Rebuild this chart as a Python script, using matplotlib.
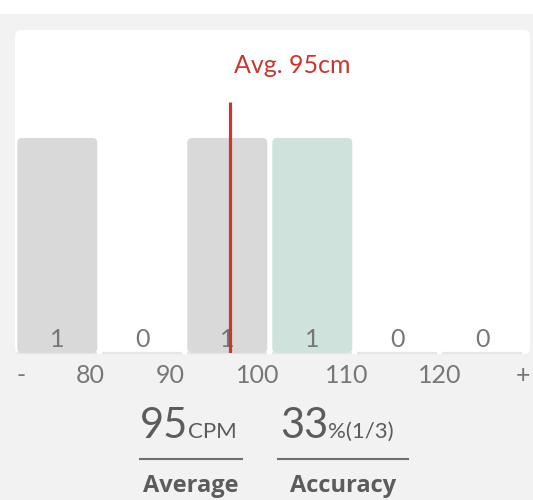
import matplotlib
matplotlib.use("Agg")
import matplotlib.pyplot as plt
from matplotlib.patches import FancyBboxPatch, Rectangle
from matplotlib.lines import Line2D

# ---- data ----
bin_labels = ["-80", "80-90", "90-100", "100-110", "110-120", "120+"]
counts = [1, 0, 1, 1, 0, 0]
highlight_bin = 3            # the bin drawn in teal
tick_labels = ["-", "80", "90", "100", "110", "120", "+"]
avg_value = 95
avg_unit_label = "cm"
avg_stat_unit = "CPM"
accuracy_pct = 33
correct = 1
total = 3
first_edge = 80   # left edge value of bin index 1
bin_step = 10

# ---- layout ----
W, H = 533, 500
fig = plt.figure(figsize=(W / 100, H / 100), dpi=100)
fig.patch.set_facecolor("#f2f2f2")

def fx(x):
    return x / W

def fy(y):
    return 1 - y / H

FONT = "Lato"
BOLD_FONT = "Open Sans"
GREY_TXT = "#777777"
DARK_TXT = "#5c5c5c"
RED = "#c9372e"

# white strip at top
fig.add_artist(Rectangle((0, fy(14)), 1, 14 / H, transform=fig.transFigure,
                         facecolor="white", edgecolor="none", zorder=0))
# white card
fig.add_artist(FancyBboxPatch((fx(15), fy(354)), fx(530) - fx(15), (354 - 30) / H,
                              boxstyle="round,pad=0,rounding_size=0.012",
                              mutation_aspect=W / H,
                              transform=fig.transFigure,
                              facecolor="white", edgecolor="none", zorder=0))

ax_left, ax_right, ax_bottom, ax_top = 17.3, 527.3, 353, 30
ax = fig.add_axes([fx(ax_left), fy(ax_bottom), (ax_right - ax_left) / W,
                   (ax_bottom - ax_top) / H])
ax.set_facecolor("none")
n = len(counts)
ax.set_xlim(0, n)
ax.set_ylim(0, 1.502)
for s in ax.spines.values():
    s.set_visible(False)
ax.tick_params(length=0)
ax.set_yticks([])

bar_w = 80 / 85
x_pos = list(range(n))
colors = ["#cfe2dc" if i == highlight_bin else "#d9d9d9" for i in range(n)]

# baseline strokes under each bin
for i in x_pos:
    ax.plot([i, i + bar_w], [0, 0], color="#e6e6e6", lw=1.6,
            solid_capstyle="butt", zorder=1, clip_on=False)

bars = ax.bar(x_pos, counts, width=bar_w, align="edge", color=colors, zorder=2)
# replace with rounded-top boxes
for b in bars:
    if b.get_height() > 0:
        b.set_visible(False)
        p = FancyBboxPatch((b.get_x(), 0), b.get_width(), b.get_height(),
                           boxstyle="round,pad=0,rounding_size=0.06",
                           mutation_aspect=0.39,
                           facecolor=b.get_facecolor(), edgecolor="none", zorder=2)
        ax.add_patch(p)

# count labels
for i, c in enumerate(counts):
    ax.text(i + bar_w / 2, 0.028, str(c), ha="center", va="baseline",
            fontsize=18, color=GREY_TXT, family=FONT, zorder=3)

# average line
avg_pos = 1 + (avg_value - first_edge) / bin_step
ax.plot([avg_pos, avg_pos], [0, 1.167], color=RED, lw=2.3, zorder=4,
        solid_capstyle="butt")
ax.annotate(f"Avg. {avg_value}{avg_unit_label}", xy=(avg_pos, 1.302),
            xytext=(3, 0), textcoords="offset points",
            ha="left", va="baseline", fontsize=18, color=RED, family=FONT)

# x tick labels
tick_pos = [0.04, 0.86, 1.80, 2.83, 3.87, 4.97, 5.95]
ax.set_xticks(tick_pos)
ax.set_xticklabels(tick_labels, fontsize=18, color=GREY_TXT, family=FONT)
ax.tick_params(axis="x", pad=8)

# bottom stats
fig.text(fx(188), fy(438), f"{avg_value}", ha="right", va="baseline",
         fontsize=30, color=DARK_TXT, family=FONT)
fig.text(fx(188), fy(438), avg_stat_unit, ha="left", va="baseline",
         fontsize=16, color=DARK_TXT, family=FONT)
fig.add_artist(Line2D([fx(140), fx(242)], [fy(459), fy(459)],
                      transform=fig.transFigure, color="#707070", lw=1.5))
fig.text(fx(191), fy(492), "Average", ha="center", va="baseline",
         fontsize=17, fontweight="bold", color=DARK_TXT, family=BOLD_FONT)

fig.text(fx(328), fy(438), f"{accuracy_pct}", ha="right", va="baseline",
         fontsize=30, color=DARK_TXT, family=FONT)
fig.text(fx(328), fy(438), f"%({correct}/{total})", ha="left", va="baseline",
         fontsize=16, color=DARK_TXT, family=FONT)
fig.add_artist(Line2D([fx(278), fx(408)], [fy(459), fy(459)],
                      transform=fig.transFigure, color="#707070", lw=1.5))
fig.text(fx(343), fy(492), "Accuracy", ha="center", va="baseline",
         fontsize=17, fontweight="bold", color=DARK_TXT, family=BOLD_FONT)

fig.savefig("out.png", dpi=100, facecolor=fig.get_facecolor())
